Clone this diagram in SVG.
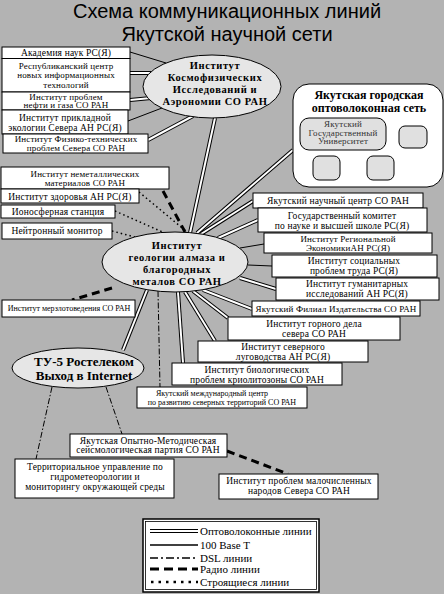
<svg xmlns="http://www.w3.org/2000/svg" xmlns:xlink="http://www.w3.org/1999/xlink" width="444" height="594" viewBox="0 0 444 594">
<style>
.bg{fill:#b3b3b3}
.box{fill:#fff;stroke:#000;stroke-width:1}
.ell{fill:#e6e6e6;stroke:#000;stroke-width:1}
.sm{fill:#e0e0e0;stroke:#000;stroke-width:1}
.t{font-family:"Liberation Serif","Times New Roman",serif;font-size:9.5px;text-anchor:middle;fill:#000;letter-spacing:0.15px}
.s9{font-size:9px}
.s8{font-size:8px;letter-spacing:0}
.b{font-family:"Liberation Serif","Times New Roman",serif;font-size:12px;font-weight:bold;text-anchor:middle;fill:#000}
.be{font-size:10.5px;letter-spacing:0.6px}
.title{font-family:"Liberation Sans",Arial,sans-serif;font-size:20px;text-anchor:middle;fill:#000}
.lg{font-family:"Liberation Serif","Times New Roman",serif;font-size:11px;fill:#000}
.fo{fill:none;stroke:#000;stroke-width:4}
.fi{fill:none;stroke:#fff;stroke-width:2}
.eth{fill:none;stroke:#000;stroke-width:1}
.dsl{fill:none;stroke:#000;stroke-width:1;stroke-dasharray:6 2 1.5 2}
.radio{fill:none;stroke:#000;stroke-width:3;stroke-dasharray:8 5}
.dot{fill:none;stroke:#000;stroke-width:1.5;stroke-dasharray:1.5 3}
</style>
<defs>
<path id="f1" d="M130,73 L151,73"/>
<path id="f2" d="M130,100 L151,98"/>
<path id="f3" d="M148,140 L193,116"/>
<path id="f4" d="M215,118 L190,233"/>
<path id="f5" d="M293,150 L197,233"/>
<path id="f6" d="M253,201 L201,234"/>
<path id="f7" d="M258,220 L218,238"/>
<path id="f8" d="M276,289 L240,278"/>
<path id="f9" d="M252,309 L203,290"/>
<path id="f10" d="M228,318 L193,291"/>
<path id="f11" d="M215,341 L185,292"/>
<path id="f12" d="M178,292 L183,363"/>
<path id="f13" d="M147,290 L123,350"/>
</defs>
<rect class="bg" x="0" y="0" width="444" height="594"/>
<text class="title" x="227" y="17.5">Схема коммуникационных линий</text>
<text class="title" x="227" y="40.5">Якутской научной сети</text>

<g id="connectors">
<g class="fo">
<use xlink:href="#f1"/><use xlink:href="#f2"/><use xlink:href="#f3"/><use xlink:href="#f4"/><use xlink:href="#f5"/><use xlink:href="#f6"/><use xlink:href="#f7"/><use xlink:href="#f8"/><use xlink:href="#f9"/><use xlink:href="#f10"/><use xlink:href="#f11"/><use xlink:href="#f12"/><use xlink:href="#f13"/>
</g>
<g class="fi">
<use xlink:href="#f1"/><use xlink:href="#f2"/><use xlink:href="#f3"/><use xlink:href="#f4"/><use xlink:href="#f5"/><use xlink:href="#f6"/><use xlink:href="#f7"/><use xlink:href="#f8"/><use xlink:href="#f9"/><use xlink:href="#f10"/><use xlink:href="#f11"/><use xlink:href="#f12"/><use xlink:href="#f13"/>
</g>
<path class="eth" d="M130,52 L166,63"/>
<path class="eth" d="M128,121 L162,108"/>
<path class="eth" d="M264,244 L240,248"/>
<path class="eth" d="M272,266 L248,265"/>
<path class="dsl" d="M158,291 L160,387"/>
<path class="dsl" d="M52,387 L36,459"/>
<path class="dsl" d="M106,387 L122,434"/>
<path class="radio" d="M163,191 L185,232"/>
<path class="radio" d="M112,288 L72,300"/>
<path class="radio" d="M227,451 L288,474"/>
<path class="dot" d="M139,192 L187,232"/>
<path class="dot" d="M115,211 L167,234"/>
<path class="dot" d="M112,231 L135,237"/>
</g>

<g id="n-akad"><rect class="box" x="2" y="47" width="128" height="11.5"/><text class="t" x="66" y="55.5">Академия наук РС(Я)</text></g>
<g id="n-rcnit"><rect class="box" x="2" y="58.5" width="128" height="33.5"/><text class="t s9" x="66" y="69">Республиканский центр</text><text class="t s9" x="66" y="78">новых информационных</text><text class="t s9" x="66" y="87.5">технологий</text></g>
<g id="n-ipng"><rect class="box" x="2" y="92" width="128" height="18"/><text class="t s9" x="66" y="99.5">Институт проблем</text><text class="t s9" x="66" y="108">нефти и газа СО РАН</text></g>
<g id="n-ipes"><rect class="box" x="2" y="110" width="126" height="24"/><text class="t" x="65" y="120.5">Институт прикладной</text><text class="t" x="65" y="130.5">экологии Севера АН РС(Я)</text></g>
<g id="n-iftps"><rect class="box" x="3" y="134" width="145" height="19"/><text class="t s9" x="76" y="142">Институт Физико-технических</text><text class="t s9" x="76" y="151">проблем Севера СО РАН</text></g>

<g id="n-ikfia"><ellipse class="ell" cx="212" cy="86.5" rx="69" ry="31.5"/><text class="b be" x="215" y="69">Институт</text><text class="b be" x="215" y="81">Космофизических</text><text class="b be" x="215" y="93">Исследований и</text><text class="b be" x="215" y="105">Аэрономии СО РАН</text></g>

<g id="n-fiber"><rect class="box" x="293" y="84" width="150" height="103" rx="16" ry="16"/><text class="b" x="369" y="99">Якутская городская</text><text class="b" x="369" y="111.5">оптоволоконная сеть</text>
<rect class="sm" x="300" y="118" width="86" height="32" rx="9" ry="9"/><text class="t s9" x="343" y="127" style="fill:#333">Якутский</text><text class="t s9" x="343" y="135.5" style="fill:#333">Государственный</text><text class="t s9" x="343" y="144" style="fill:#333">Университет</text>
<rect class="sm" x="399" y="126" width="28" height="22" rx="6" ry="6"/>
<rect class="sm" x="313" y="156" width="27" height="24" rx="6" ry="6"/>
<rect class="sm" x="367" y="156" width="27" height="24" rx="6" ry="6"/></g>

<g id="n-inm"><rect class="box" x="1" y="167" width="168" height="22"/><text class="t s9" x="85" y="176.5">Институт неметаллических</text><text class="t s9" x="85" y="185.5">материалов СО РАН</text></g>
<g id="n-izd"><rect class="box" x="1" y="189" width="138" height="14"/><text class="t" x="70" y="199.5">Институт здоровья АН РС(Я)</text></g>
<g id="n-iono"><rect class="box" x="1" y="205" width="114" height="13"/><text class="t" x="58" y="215">Ионосферная станция</text></g>
<g id="n-neutr"><rect class="box" x="2" y="223" width="110" height="16"/><text class="t" x="57" y="234">Нейтронный монитор</text></g>

<g id="n-igabm"><ellipse class="ell" cx="175" cy="262" rx="73" ry="30"/><text class="b be" x="177" y="248.5">Институт</text><text class="b be" x="177" y="260.5">геологии алмаза и</text><text class="b be" x="177" y="272.5">благородных</text><text class="b be" x="177" y="284.5">металов СО РАН</text></g>

<g id="n-ync"><rect class="box" x="253" y="193" width="170" height="15"/><text class="t" x="338" y="203.5">Якутский научный центр СО РАН</text></g>
<g id="n-gk"><rect class="box" x="258" y="208" width="169" height="24"/><text class="t" x="342" y="218.5">Государственный комитет</text><text class="t" x="342" y="228.5">по науке и высшей школе РС(Я)</text></g>
<g id="n-ire"><rect class="box" x="264" y="233" width="168" height="20"/><text class="t s9" x="348" y="241.5">Институт Региональной</text><text class="t s9" x="348" y="250.5">ЭкономикиАН РС(Я)</text></g>
<g id="n-ispt"><rect class="box" x="272" y="255" width="165" height="22"/><text class="t" x="354" y="264">Институт социальных</text><text class="t" x="354" y="273.5">проблем труда РС(Я)</text></g>
<g id="n-igi"><rect class="box" x="276" y="278" width="163" height="22"/><text class="t" x="357" y="287">Институт гуманитарных</text><text class="t" x="357" y="296.5">исследований АН РС(Я)</text></g>
<g id="n-yfi"><rect class="box" x="252" y="301" width="168" height="15"/><text class="t s9" x="336" y="311.5">Якутский Филиал Издательства СО РАН</text></g>
<g id="n-igd"><rect class="box" x="228" y="317" width="172" height="23"/><text class="t" x="314" y="327">Институт горного дела</text><text class="t" x="314" y="337">севера СО РАН</text></g>
<g id="n-isl"><rect class="box" x="198" y="341" width="170" height="21"/><text class="t" x="283" y="350">Институт северного</text><text class="t" x="283" y="360">луговодства АН РС(Я)</text></g>
<g id="n-ibpk"><rect class="box" x="172" y="363" width="170" height="22"/><text class="t" x="257" y="372.5">Институт биологических</text><text class="t" x="257" y="382.5">проблем криолитозоны СО РАН</text></g>
<g id="n-ymc"><rect class="box" x="137" y="387" width="170" height="21"/><text class="t s8" x="212" y="396">Якутский международный центр</text><text class="t s8" x="222" y="405">по развитию северных территорий СО РАН</text></g>
<g id="n-imz"><rect class="box" x="2" y="300" width="133" height="17"/><text class="t s8" x="69" y="311">Институт мерзлотоведения СО РАН</text></g>

<g id="n-tu5"><ellipse class="ell" cx="78" cy="368" rx="66" ry="20"/><text class="b" x="84" y="366" style="font-size:13px">ТУ-5 Ростелеком</text><text class="b" x="84" y="380" style="font-size:13px">Выход в Internet</text></g>

<g id="n-yoms"><rect class="box" x="70" y="434" width="157" height="23"/><text class="t" x="148" y="443.5">Якутская Опытно-Методическая</text><text class="t" x="148" y="453">сейсмологическая партия СО РАН</text></g>
<g id="n-tu"><rect class="box" x="15" y="459" width="159" height="39"/><text class="t" x="95" y="470">Территориальное управление по</text><text class="t" x="95" y="480">гидрометеорологии и</text><text class="t" x="95" y="490">мониторингу окружающей среды</text></g>
<g id="n-ipmns"><rect class="box" x="219" y="474" width="159" height="25"/><text class="t" x="299" y="484">Институт проблем малочисленных</text><text class="t" x="299" y="494">народов Севера СО РАН</text></g>

<g id="legend">
<rect x="143" y="519" width="176" height="73" fill="#fff" stroke="#000" stroke-width="1.5"/>
<rect x="145.5" y="521.5" width="171" height="68" fill="none" stroke="#000" stroke-width="0.8"/>
<path class="fo" d="M150,531 L198,531"/><path class="fi" d="M150,531 L198,531"/>
<path d="M150,545 L198,545" fill="none" stroke="#000" stroke-width="1.5"/>
<path d="M150,558 L198,558" fill="none" stroke="#000" stroke-width="1.5" stroke-dasharray="8 3 2 3"/>
<path d="M150,569 L198,569" fill="none" stroke="#000" stroke-width="3" stroke-dasharray="9 5"/>
<path d="M151,582 L198,582" fill="none" stroke="#000" stroke-width="2.5" stroke-dasharray="2.5 5"/>
<text class="lg" x="200" y="535">Оптоволоконные линии</text>
<text class="lg" x="200" y="548.5">100 Base T</text>
<text class="lg" x="200" y="561.5">DSL линии</text>
<text class="lg" x="200" y="573">Радио линии</text>
<text class="lg" x="200" y="585.5">Строящиеся линии</text>
</g>
</svg>
